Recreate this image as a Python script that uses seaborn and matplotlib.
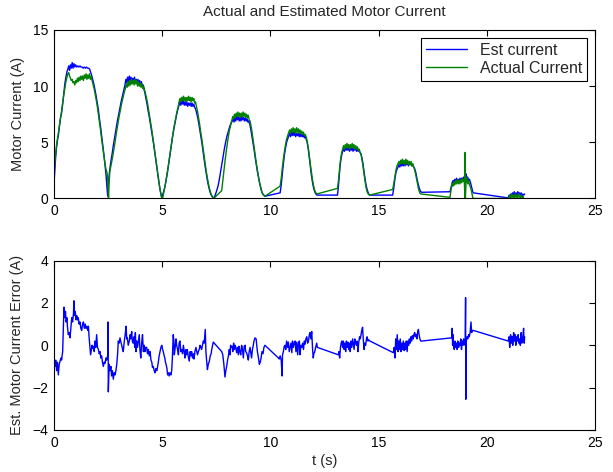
import matplotlib
matplotlib.use("Agg")
import matplotlib.pyplot as plt
import pandas as pd
import seaborn as sns

# (time s, current A), hump by hump
est_current = [
    (0.00, 1.3), (0.04, 2.6), (0.08, 3.8), (0.12, 4.6), (0.16, 5.2), (0.20, 5.6), (0.25, 6.4), (0.30, 7.2),
    (0.35, 7.6), (0.40, 8.4), (0.45, 9.3), (0.50, 10.2), (0.55, 10.8), (0.60, 11.3), (0.64, 11.5), (0.68, 11.8),
    (0.72, 11.4), (0.76, 11.9), (0.80, 11.6), (0.84, 12.1), (0.88, 11.6), (0.92, 12.0), (0.96, 11.7), (1.00, 11.9),
    (1.05, 11.7), (1.10, 11.8), (1.15, 11.7), (1.20, 11.8), (1.25, 11.7), (1.30, 11.7), (1.35, 11.6), (1.40, 11.7),
    (1.45, 11.6), (1.50, 11.7), (1.55, 11.6), (1.60, 11.6), (1.65, 11.5), (1.70, 11.2), (1.75, 10.9), (1.80, 10.5),
    (1.85, 10.1), (1.90, 9.6), (1.95, 9.1), (2.00, 8.5), (2.05, 7.9), (2.10, 7.1), (2.15, 6.4), (2.20, 5.6),
    (2.25, 4.8), (2.30, 4.0), (2.35, 3.1), (2.40, 2.2), (2.44, 1.2), (2.48, 0.2),
    (2.52, 1.4), (2.56, 2.3), (2.62, 3.2), (2.68, 3.9), (2.74, 4.7), (2.80, 5.4), (2.86, 6.1), (2.92, 6.8),
    (2.98, 7.4), (3.04, 8.0), (3.10, 8.6), (3.16, 9.1), (3.22, 9.6), (3.28, 10.1), (3.32, 10.6), (3.36, 10.3),
    (3.40, 10.8), (3.44, 10.4), (3.48, 10.9), (3.52, 10.5), (3.56, 10.8), (3.60, 10.3), (3.64, 10.7), (3.68, 10.4),
    (3.72, 10.8), (3.76, 10.3), (3.80, 10.6), (3.84, 10.3), (3.88, 10.6), (3.92, 10.2), (3.96, 10.5), (4.00, 10.1),
    (4.04, 10.4), (4.08, 10.0), (4.12, 10.1), (4.16, 9.7), (4.20, 9.4), (4.25, 8.9), (4.30, 8.4), (4.35, 7.8),
    (4.40, 7.3), (4.45, 6.7), (4.50, 6.1), (4.55, 5.5), (4.60, 4.9), (4.65, 4.2), (4.70, 3.5), (4.75, 2.8),
    (4.80, 2.1), (4.85, 1.4), (4.90, 0.8), (4.95, 0.3), (4.98, 0.1),
    (5.05, 0.5), (5.12, 1.0), (5.18, 1.6), (5.24, 2.3), (5.30, 3.1), (5.36, 3.9), (5.42, 4.7), (5.48, 5.5),
    (5.54, 6.2), (5.60, 6.8), (5.66, 7.4), (5.72, 7.9), (5.78, 8.3), (5.82, 8.6), (5.86, 8.3), (5.90, 8.7),
    (5.94, 8.4), (5.98, 8.7), (6.02, 8.3), (6.06, 8.6), (6.10, 8.3), (6.14, 8.6), (6.18, 8.2), (6.22, 8.5),
    (6.26, 8.3), (6.30, 8.5), (6.34, 8.2), (6.38, 8.5), (6.42, 8.2), (6.46, 8.4), (6.50, 8.1), (6.54, 8.0),
    (6.58, 7.7), (6.63, 7.3), (6.68, 6.8), (6.73, 6.2), (6.78, 5.6), (6.83, 5.0), (6.88, 4.3), (6.93, 3.6),
    (6.98, 2.9), (7.03, 2.3), (7.08, 1.7), (7.13, 1.2), (7.18, 0.8), (7.24, 0.4), (7.30, 0.2), (7.38, 0.0),
    (7.45, 0.3), (7.52, 0.7), (7.58, 1.1), (7.64, 1.7), (7.70, 2.4), (7.76, 3.1), (7.82, 3.8), (7.88, 4.5),
    (7.94, 5.1), (8.00, 5.6), (8.06, 6.0), (8.12, 6.4), (8.18, 6.7), (8.24, 6.9), (8.28, 7.1), (8.32, 6.8),
    (8.36, 7.2), (8.40, 6.9), (8.44, 7.3), (8.48, 7.0), (8.52, 7.3), (8.56, 6.9), (8.60, 7.2), (8.64, 6.9),
    (8.68, 7.3), (8.72, 7.0), (8.76, 7.2), (8.80, 6.9), (8.84, 7.2), (8.88, 6.9), (8.92, 7.1), (8.96, 6.8),
    (9.00, 6.9), (9.05, 6.6), (9.10, 6.1), (9.15, 5.5), (9.20, 4.9), (9.25, 4.3), (9.30, 3.6), (9.35, 3.0),
    (9.40, 2.4), (9.45, 1.9), (9.50, 1.4), (9.55, 1.0), (9.60, 0.6), (9.65, 0.4), (9.70, 0.3), (9.75, 0.2),
    (10.45, 0.5), (10.50, 1.2), (10.55, 2.2), (10.60, 3.1), (10.65, 3.9), (10.70, 4.5), (10.75, 5.0), (10.80, 5.3),
    (10.85, 5.6), (10.89, 5.8), (10.93, 5.5), (10.97, 5.9), (11.01, 5.6), (11.05, 5.9), (11.09, 5.6), (11.13, 5.9),
    (11.17, 5.5), (11.21, 5.8), (11.25, 5.6), (11.29, 5.8), (11.33, 5.5), (11.37, 5.8), (11.41, 5.5), (11.45, 5.7),
    (11.49, 5.5), (11.53, 5.7), (11.57, 5.4), (11.61, 5.5), (11.65, 5.3), (11.70, 5.0), (11.75, 4.4), (11.80, 3.6),
    (11.85, 2.8), (11.90, 2.0), (11.95, 1.4), (12.00, 0.9), (12.05, 0.6), (12.10, 0.4), (12.15, 0.3),
    (13.10, 0.3), (13.14, 1.0), (13.18, 2.0), (13.22, 2.9), (13.26, 3.5), (13.30, 3.9), (13.34, 4.2), (13.38, 4.4),
    (13.42, 4.2), (13.46, 4.5), (13.50, 4.3), (13.54, 4.6), (13.58, 4.3), (13.62, 4.5), (13.66, 4.2), (13.70, 4.5),
    (13.74, 4.3), (13.78, 4.5), (13.82, 4.2), (13.86, 4.5), (13.90, 4.3), (13.94, 4.5), (13.98, 4.2), (14.02, 4.4),
    (14.06, 4.2), (14.10, 4.3), (14.14, 4.1), (14.18, 4.0), (14.22, 3.7), (14.27, 3.2), (14.32, 2.5), (14.37, 1.8),
    (14.42, 1.2), (14.47, 0.8), (14.52, 0.5), (14.58, 0.3),
    (15.65, 0.3), (15.70, 0.9), (15.75, 1.7), (15.80, 2.3), (15.85, 2.6), (15.90, 2.8), (15.94, 3.0), (15.98, 2.8),
    (16.02, 3.1), (16.06, 2.9), (16.10, 3.2), (16.14, 2.9), (16.18, 3.2), (16.22, 2.9), (16.26, 3.2), (16.30, 3.0),
    (16.34, 3.2), (16.38, 2.9), (16.42, 3.2), (16.46, 3.0), (16.50, 3.1), (16.54, 2.9), (16.58, 3.0), (16.62, 2.8),
    (16.66, 2.7), (16.72, 2.3), (16.78, 1.7), (16.84, 1.2), (16.90, 0.8), (16.95, 0.6), (17.00, 0.55),
    (18.30, 0.6), (18.35, 1.0), (18.40, 1.4), (18.44, 1.6), (18.48, 1.4), (18.52, 1.7), (18.56, 1.5), (18.60, 1.8),
    (18.64, 1.5), (18.68, 1.7), (18.72, 1.5), (18.76, 1.8), (18.80, 1.6), (18.84, 1.8), (18.88, 1.6), (18.92, 1.9),
    (18.96, 1.7), (19.00, 2.0), (19.04, 2.2), (19.08, 1.7), (19.12, 1.9), (19.16, 1.6), (19.20, 1.7), (19.25, 1.4),
    (19.30, 1.0), (19.35, 0.6), (19.38, 0.5),
    (20.99, 0.05), (21.03, 0.3), (21.07, 0.1), (21.11, 0.4), (21.15, 0.2), (21.19, 0.5), (21.23, 0.3), (21.27, 0.6),
    (21.31, 0.3), (21.35, 0.5), (21.39, 0.2), (21.43, 0.6), (21.47, 0.4), (21.51, 0.5), (21.55, 0.3), (21.59, 0.5),
    (21.63, 0.2), (21.67, 0.4), (21.71, 0.3), (21.75, 0.4),
]

actual_current = [
    (0.00, 2.5), (0.04, 3.2), (0.08, 4.0), (0.12, 4.8), (0.16, 5.3), (0.20, 5.8), (0.25, 6.5), (0.30, 7.1),
    (0.35, 7.8), (0.40, 8.5), (0.45, 9.2), (0.50, 9.8), (0.55, 10.4), (0.60, 10.8), (0.64, 11.1), (0.68, 11.2),
    (0.72, 10.9), (0.76, 10.7), (0.80, 10.5), (0.84, 10.6), (0.88, 10.3), (0.92, 10.4), (0.96, 10.1), (1.00, 10.5),
    (1.04, 10.3), (1.08, 10.7), (1.12, 10.4), (1.16, 10.8), (1.20, 10.5), (1.24, 10.9), (1.28, 10.6), (1.32, 10.9),
    (1.36, 10.5), (1.40, 11.0), (1.44, 10.7), (1.48, 11.1), (1.52, 10.6), (1.56, 11.0), (1.60, 10.7), (1.64, 11.1),
    (1.68, 10.6), (1.72, 10.9), (1.76, 10.5), (1.80, 10.2), (1.85, 9.8), (1.90, 9.3), (1.95, 8.8), (2.00, 8.2),
    (2.05, 7.5), (2.10, 6.8), (2.15, 6.1), (2.20, 5.3), (2.25, 4.6), (2.30, 3.9), (2.35, 3.2), (2.40, 2.6),
    (2.45, 2.3), (2.48, 1.8), (2.52, 0.0), (2.55, 1.5), (2.58, 2.4), (2.64, 3.0), (2.70, 3.6), (2.76, 4.3),
    (2.82, 5.0), (2.88, 5.8), (2.94, 6.5), (3.00, 7.2), (3.06, 7.8), (3.12, 8.4), (3.18, 8.9), (3.24, 9.4),
    (3.30, 9.8), (3.34, 10.2), (3.38, 9.9), (3.42, 10.4), (3.46, 10.0), (3.50, 10.5), (3.54, 10.1), (3.58, 10.6),
    (3.62, 10.2), (3.66, 10.5), (3.70, 10.1), (3.74, 10.6), (3.78, 10.2), (3.82, 10.5), (3.86, 10.0), (3.90, 10.4),
    (3.94, 10.0), (3.98, 10.3), (4.02, 9.9), (4.06, 10.2), (4.10, 9.8), (4.14, 10.0), (4.18, 9.7), (4.22, 9.4),
    (4.27, 9.0), (4.32, 8.5), (4.37, 7.9), (4.42, 7.3), (4.47, 6.7), (4.52, 6.1), (4.57, 5.4), (4.62, 4.7),
    (4.67, 4.0), (4.72, 3.3), (4.77, 2.6), (4.82, 1.9), (4.87, 1.2), (4.92, 0.6), (4.97, 0.1), (5.02, 0.0),
    (5.08, 0.6), (5.14, 1.2), (5.20, 1.9), (5.26, 2.6), (5.32, 3.4), (5.38, 4.2), (5.44, 5.0), (5.50, 5.8),
    (5.56, 6.5), (5.62, 7.1), (5.68, 7.7), (5.74, 8.2), (5.78, 8.6), (5.82, 8.9), (5.86, 8.6), (5.90, 9.0),
    (5.94, 8.7), (5.98, 9.1), (6.02, 8.7), (6.06, 9.0), (6.10, 8.6), (6.14, 9.0), (6.18, 8.7), (6.22, 9.1),
    (6.26, 8.7), (6.30, 9.0), (6.34, 8.6), (6.38, 9.0), (6.42, 8.7), (6.46, 8.9), (6.50, 8.5), (6.54, 8.6),
    (6.58, 8.2), (6.63, 7.8), (6.68, 7.2), (6.73, 6.6), (6.78, 5.9), (6.83, 5.3), (6.88, 4.6), (6.93, 3.9),
    (6.98, 3.2), (7.03, 2.5), (7.08, 1.9), (7.13, 1.4), (7.18, 0.9), (7.24, 0.5), (7.30, 0.2), (7.38, 0.0),
    (7.75, 0.7), (7.80, 1.6), (7.86, 2.6), (7.92, 3.6), (7.98, 4.5), (8.04, 5.3), (8.10, 6.0), (8.16, 6.5),
    (8.22, 7.0), (8.26, 7.3), (8.30, 7.1), (8.34, 7.5), (8.38, 7.2), (8.42, 7.6), (8.46, 7.3), (8.50, 7.7),
    (8.54, 7.3), (8.58, 7.6), (8.62, 7.2), (8.66, 7.6), (8.70, 7.3), (8.74, 7.7), (8.78, 7.3), (8.82, 7.6),
    (8.86, 7.2), (8.90, 7.5), (8.94, 7.2), (8.98, 7.4), (9.02, 7.0), (9.06, 6.9), (9.11, 6.4), (9.16, 5.8),
    (9.21, 5.1), (9.26, 4.4), (9.31, 3.7), (9.36, 3.0), (9.41, 2.4), (9.46, 1.8), (9.51, 1.3), (9.56, 0.9),
    (9.62, 0.5), (9.68, 0.3), (9.75, 0.2),
    (10.45, 1.1), (10.50, 1.8), (10.55, 2.7), (10.60, 3.5), (10.65, 4.2), (10.70, 4.8), (10.75, 5.3), (10.80, 5.6),
    (10.85, 5.9), (10.89, 6.1), (10.93, 5.8), (10.97, 6.2), (11.01, 5.9), (11.05, 6.3), (11.09, 5.9), (11.13, 6.2),
    (11.17, 5.8), (11.21, 6.3), (11.25, 5.9), (11.29, 6.2), (11.33, 5.8), (11.37, 6.1), (11.41, 5.8), (11.45, 6.0),
    (11.49, 5.7), (11.53, 5.9), (11.57, 5.6), (11.61, 5.7), (11.65, 5.5), (11.70, 5.1), (11.75, 4.5), (11.80, 3.8),
    (11.85, 3.0), (11.90, 2.3), (11.95, 1.6), (12.00, 1.1), (12.05, 0.7), (12.10, 0.5), (12.15, 0.4),
    (13.10, 0.9), (13.14, 1.5), (13.18, 2.3), (13.22, 3.1), (13.26, 3.7), (13.30, 4.1), (13.34, 4.4), (13.38, 4.7),
    (13.42, 4.4), (13.46, 4.8), (13.50, 4.5), (13.54, 4.9), (13.58, 4.5), (13.62, 4.8), (13.66, 4.4), (13.70, 4.8),
    (13.74, 4.5), (13.78, 4.9), (13.82, 4.5), (13.86, 4.8), (13.90, 4.4), (13.94, 4.7), (13.98, 4.4), (14.02, 4.6),
    (14.06, 4.3), (14.10, 4.4), (14.14, 4.1), (14.18, 4.0), (14.22, 3.6), (14.27, 3.0), (14.32, 2.3), (14.37, 1.6),
    (14.42, 1.0), (14.47, 0.6), (14.52, 0.4), (14.58, 0.3),
    (15.65, 0.8), (15.70, 1.3), (15.75, 1.9), (15.80, 2.5), (15.85, 2.9), (15.90, 3.1), (15.94, 3.3), (15.98, 3.0),
    (16.02, 3.4), (16.06, 3.1), (16.10, 3.5), (16.14, 3.1), (16.18, 3.4), (16.22, 3.0), (16.26, 3.5), (16.30, 3.1),
    (16.34, 3.4), (16.38, 3.0), (16.42, 3.3), (16.46, 3.0), (16.50, 3.3), (16.54, 2.9), (16.58, 3.1), (16.62, 2.8),
    (16.66, 2.6), (16.72, 2.1), (16.78, 1.5), (16.84, 0.9), (16.90, 0.5), (16.96, 0.4),
    (18.30, 0.1), (18.35, 0.8), (18.40, 1.3), (18.44, 1.1), (18.48, 1.5), (18.52, 1.2), (18.56, 1.6), (18.60, 1.3),
    (18.64, 1.7), (18.68, 1.3), (18.72, 1.6), (18.76, 1.3), (18.80, 1.7), (18.84, 1.4), (18.88, 1.8), (18.92, 1.5),
    (18.96, 1.7), (18.99, 0.0), (19.00, 4.1), (19.01, 0.0), (19.04, 1.4), (19.08, 1.9), (19.12, 1.3), (19.16, 1.6),
    (19.20, 1.2), (19.25, 1.0), (19.30, 0.6), (19.36, 0.0),
    (20.99, 0.0), (21.03, 0.1), (21.07, 0.3), (21.11, 0.0), (21.15, 0.4), (21.19, 0.1), (21.23, 0.3), (21.27, 0.0),
    (21.31, 0.4), (21.35, 0.1), (21.39, 0.3), (21.43, 0.0), (21.47, 0.4), (21.51, 0.2), (21.55, 0.0), (21.59, 0.3),
    (21.63, 0.1), (21.67, 0.2), (21.70, 0.0),
]

current_error = [
    (0.00, -0.6), (0.04, -1.0), (0.08, -0.7), (0.12, -1.2), (0.16, -0.8), (0.20, -1.4), (0.24, -0.9), (0.28, -0.75),
    (0.32, -0.6), (0.35, -0.7), (0.40, -0.3), (0.43, 0.8), (0.46, 1.8), (0.50, 1.3), (0.53, 1.6), (0.56, 1.1),
    (0.60, 1.3), (0.62, 0.9), (0.66, 0.5), (0.70, 0.6), (0.74, 0.35), (0.78, 0.8), (0.82, 1.3), (0.86, 1.1),
    (0.90, 1.5), (0.92, 2.1), (0.95, 1.4), (0.98, 1.6), (1.02, 1.2), (1.05, 1.4), (1.08, 1.2), (1.12, 1.3),
    (1.16, 1.0), (1.20, 1.1), (1.24, 0.8), (1.28, 0.7), (1.32, 1.0), (1.36, 1.1), (1.40, 0.8), (1.44, 1.0),
    (1.48, 0.8), (1.52, 0.9), (1.56, 0.7), (1.59, 0.9), (1.62, 0.4), (1.66, -0.1), (1.69, -0.45), (1.73, -0.2),
    (1.76, 0.0), (1.79, -0.15), (1.83, -0.05), (1.86, -0.3), (1.89, 0.2), (1.93, -0.1), (1.97, 0.5), (2.01, -0.1),
    (2.05, -0.2), (2.09, -0.4), (2.13, -0.3), (2.16, -0.6), (2.20, -0.5), (2.24, -0.8), (2.28, -1.0), (2.32, -0.8),
    (2.36, -0.85), (2.40, -0.6), (2.43, -0.7), (2.48, -0.5), (2.50, 1.1), (2.51, -2.2), (2.55, -0.9), (2.59, -1.2),
    (2.63, -1.0), (2.66, -1.45), (2.70, -1.2), (2.74, -1.6), (2.78, -1.3), (2.82, -1.4), (2.86, -1.2), (2.90, -0.9),
    (2.94, -0.4), (2.97, 0.2), (3.01, 0.1), (3.05, 0.35), (3.09, 0.15), (3.13, 0.0), (3.17, -0.2), (3.20, -0.3),
    (3.25, 0.2), (3.29, 0.5), (3.33, 0.9), (3.36, 0.3), (3.39, 0.35), (3.43, 0.0), (3.48, 0.2), (3.52, 0.5),
    (3.55, 0.3), (3.59, 0.65), (3.62, 0.2), (3.66, 0.1), (3.70, 0.4), (3.73, -0.1), (3.76, 0.6), (3.79, -0.3),
    (3.82, 0.2), (3.86, -0.1), (3.91, 0.3), (3.94, 0.5), (3.97, -0.2), (4.01, -0.6), (4.05, 0.1), (4.09, 0.5),
    (4.13, -0.3), (4.17, 0.0), (4.20, -0.3), (4.24, -0.1), (4.28, -0.1), (4.32, -0.4), (4.36, -0.2), (4.40, -0.5),
    (4.44, -0.3), (4.48, -0.7), (4.52, -0.8), (4.55, -1.05), (4.59, -1.0), (4.63, -1.2), (4.67, -1.3), (4.71, -1.1),
    (4.75, -1.2), (4.78, -1.05), (4.82, -0.8), (4.86, -0.5), (4.90, -0.3), (4.94, -0.1), (4.98, 0.0), (5.02, -0.2),
    (5.05, -0.3), (5.08, -0.45), (5.12, -0.6), (5.15, -0.8), (5.18, -0.9), (5.22, -1.1), (5.25, -1.4), (5.29, -1.3),
    (5.32, -1.45), (5.36, -1.3), (5.40, -1.4), (5.44, -1.2), (5.47, -0.6), (5.51, 0.5), (5.54, 0.2), (5.56, -0.45),
    (5.60, -0.1), (5.64, 0.3), (5.67, 0.0), (5.71, -0.2), (5.75, -0.45), (5.78, 0.1), (5.82, 0.2), (5.86, -0.3),
    (5.90, -0.2), (5.94, -0.4), (5.98, 0.0), (6.02, -0.3), (6.05, -0.6), (6.09, -0.2), (6.13, -0.45), (6.16, -0.2),
    (6.20, -0.5), (6.25, -0.75), (6.29, -0.3), (6.33, -0.5), (6.36, -0.3), (6.40, -0.6), (6.44, -0.4), (6.47, -0.65),
    (6.51, -0.3), (6.56, -0.1), (6.60, -0.3), (6.63, -0.45), (6.67, -0.3), (6.71, -0.2), (6.75, 0.0), (6.79, -0.1),
    (6.82, -0.2), (6.86, 0.0), (6.90, 0.2), (6.94, 0.1), (6.99, 0.75), (7.02, -0.3), (7.05, -0.7), (7.09, -1.15),
    (7.13, -0.9), (7.18, -0.75), (7.22, -0.5), (7.26, -0.4), (7.29, -0.2), (7.33, 0.0), (7.36, 0.15),
    (7.75, -0.3), (7.80, -0.45), (7.85, -0.9), (7.90, -1.5), (7.94, -1.2), (7.98, -1.0), (8.02, -0.7), (8.06, -0.5),
    (8.10, -0.2), (8.13, -0.45), (8.16, 0.0), (8.20, -0.1), (8.23, -0.05), (8.26, -0.3), (8.30, 0.1), (8.33, -0.2),
    (8.37, 0.0), (8.40, -0.1), (8.44, -0.35), (8.48, -0.1), (8.52, -0.45), (8.55, -0.05), (8.59, -0.3), (8.63, -0.45),
    (8.67, 0.0), (8.71, -0.2), (8.75, -0.6), (8.79, -0.05), (8.83, 0.0), (8.86, -0.3), (8.90, -0.35), (8.94, -0.5),
    (8.98, -0.7), (9.02, -0.3), (9.06, -0.1), (9.10, -0.4), (9.13, -0.6), (9.17, -0.2), (9.21, 0.0), (9.24, 0.2),
    (9.29, 0.35), (9.34, 0.3), (9.37, 0.0), (9.40, -0.3), (9.45, -0.6), (9.49, -0.9), (9.53, -0.8), (9.57, -0.6),
    (9.61, -0.3), (9.66, -0.4), (9.70, -0.1), (9.75, 0.0), (9.80, -0.05),
    (10.37, -0.6), (10.41, -0.65), (10.45, -0.5), (10.50, -0.7), (10.54, -1.45), (10.56, -0.45), (10.60, -0.3),
    (10.64, -0.05), (10.67, 0.0), (10.71, -0.2), (10.75, 0.2), (10.79, -0.1), (10.83, 0.15), (10.87, -0.3),
    (10.91, -0.1), (10.95, 0.1), (10.99, -0.35), (11.02, 0.2), (11.06, -0.1), (11.10, 0.1), (11.14, 0.2),
    (11.18, -0.3), (11.22, 0.15), (11.26, -0.45), (11.30, 0.1), (11.34, 0.2), (11.37, -0.45), (11.41, 0.0),
    (11.45, -0.1), (11.49, 0.1), (11.53, -0.2), (11.57, 0.2), (11.60, 0.05), (11.64, 0.3), (11.68, 0.4),
    (11.72, 0.1), (11.76, 0.2), (11.80, 0.5), (11.83, 0.6), (11.87, 0.3), (11.91, 0.65), (11.95, -0.2),
    (11.98, -0.6), (12.01, -0.4), (12.05, -0.3), (12.09, -0.1), (12.14, 0.1), (12.17, -0.1),
    (13.14, -0.45), (13.17, -0.3), (13.20, -0.6), (13.24, -0.1), (13.27, 0.1), (13.30, 0.2), (13.34, -0.1),
    (13.37, 0.2), (13.41, -0.2), (13.44, 0.1), (13.48, -0.3), (13.51, 0.2), (13.55, -0.1), (13.58, 0.15),
    (13.62, -0.2), (13.65, 0.1), (13.69, -0.3), (13.72, 0.2), (13.76, -0.1), (13.80, 0.3), (13.83, 0.1),
    (13.87, -0.2), (13.90, 0.3), (13.94, 0.1), (13.98, 0.0), (14.01, 0.2), (14.05, -0.3), (14.08, 0.1),
    (14.12, 0.4), (14.15, 0.3), (14.19, 0.5), (14.22, 0.7), (14.26, 0.85), (14.29, 0.3), (14.33, -0.2),
    (14.36, 0.1), (14.40, 0.0), (14.44, 0.3), (14.47, 0.4), (14.51, 0.2), (14.55, 0.25), (14.60, 0.2),
    (15.68, -0.35), (15.72, -0.1), (15.76, -0.6), (15.79, 0.3), (15.83, -0.2), (15.86, 0.5), (15.90, -0.3),
    (15.93, 0.2), (15.96, -0.2), (16.00, 0.3), (16.04, -0.3), (16.07, 0.1), (16.11, -0.2), (16.14, 0.2),
    (16.18, -0.25), (16.21, 0.1), (16.25, -0.2), (16.28, 0.2), (16.32, -0.3), (16.35, 0.2), (16.39, 0.0),
    (16.42, 0.3), (16.46, 0.1), (16.49, 0.4), (16.53, 0.2), (16.56, 0.45), (16.60, 0.3), (16.63, 0.5),
    (16.67, 0.6), (16.70, 0.4), (16.74, 0.5), (16.77, 0.3), (16.80, 0.6), (16.84, 0.75), (16.87, 0.5),
    (16.91, 0.3), (16.95, 0.2), (16.99, 0.2),
    (18.38, 0.35), (18.40, 0.8), (18.42, 0.0), (18.44, 0.5), (18.47, -0.1), (18.50, -0.2), (18.53, 0.2),
    (18.56, -0.1), (18.60, 0.1), (18.63, -0.2), (18.66, 0.2), (18.70, -0.1), (18.73, 0.1), (18.76, 0.0),
    (18.80, 0.3), (18.83, -0.2), (18.87, 0.2), (18.90, 0.0), (18.93, 0.3), (18.96, 0.1), (19.00, 0.0),
    (19.02, 2.25), (19.03, -2.55), (19.05, 0.2), (19.09, 0.4), (19.12, 0.3), (19.16, 0.5), (19.19, 0.4),
    (19.23, 0.6), (19.27, 1.1), (19.30, 0.6), (19.34, 0.7), (19.38, 0.7),
    (20.99, 0.2), (21.03, 0.4), (21.06, -0.1), (21.10, 0.5), (21.13, 0.1), (21.17, 0.4), (21.20, 0.0),
    (21.24, 0.6), (21.27, 0.2), (21.31, 0.5), (21.34, 0.0), (21.38, 0.4), (21.41, 0.2), (21.45, 0.5),
    (21.48, 0.1), (21.52, 0.3), (21.55, 0.0), (21.59, 0.6), (21.62, 0.1), (21.66, 0.3), (21.70, 0.8),
    (21.73, 0.1), (21.75, 0.4),
]

x_ticks = [0, 5, 10, 15, 20, 25]
top_y_ticks = [0, 5, 10, 15]
bottom_y_ticks = [-4, -2, 0, 2, 4]

EST_COLOR = "#0000ff"
ACT_COLOR = "#008000"


def _frame(points, name):
    return pd.DataFrame(points, columns=["t", name])


def _style_axes(ax):
    ax.tick_params(direction="in", length=4, width=0.8, top=True, right=True,
                   labelsize=10, pad=4, colors="black")
    for spine in ax.spines.values():
        spine.set_visible(True)
        spine.set_linewidth(0.8)
        spine.set_color("black")
    ax.grid(False)


sns.set_style("white")
plt.rcParams["font.family"] = ["Liberation Sans", "DejaVu Sans"]

fig = plt.figure(figsize=(6.13, 4.72), dpi=100)
ax_top = fig.add_axes([0.0881, 0.5795, 0.8825, 0.3570])
ax_bot = fig.add_axes([0.0881, 0.0890, 0.8825, 0.3590])

est = _frame(est_current, "amps")
act = _frame(actual_current, "amps")
err = _frame(current_error, "amps")

sns.lineplot(data=est, x="t", y="amps", ax=ax_top, color=EST_COLOR, linewidth=1.0,
             estimator=None, sort=False, label="Est current")
sns.lineplot(data=act, x="t", y="amps", ax=ax_top, color=ACT_COLOR, linewidth=1.0,
             estimator=None, sort=False, label="Actual Current")
ax_top.set_xlim(x_ticks[0], x_ticks[-1])
ax_top.set_ylim(top_y_ticks[0], top_y_ticks[-1])
ax_top.set_xticks(x_ticks)
ax_top.set_yticks(top_y_ticks)
ax_top.set_xlabel("")
ax_top.set_ylabel("Motor Current (A)", fontsize=10.5, labelpad=6)
ax_top.set_title("Actual and Estimated Motor Current", fontsize=11, pad=10)
_style_axes(ax_top)
leg = ax_top.legend(loc="upper right", fontsize=11.5, frameon=True, fancybox=False,
                    edgecolor="black", framealpha=1, handlelength=2.6,
                    borderaxespad=0.5, borderpad=0.3, labelspacing=0.2,
                    handletextpad=0.8)
leg.get_frame().set_linewidth(0.8)

sns.lineplot(data=err, x="t", y="amps", ax=ax_bot, color=EST_COLOR, linewidth=1.0,
             estimator=None, sort=False)
ax_bot.set_xlim(x_ticks[0], x_ticks[-1])
ax_bot.set_ylim(bottom_y_ticks[0], bottom_y_ticks[-1])
ax_bot.set_xticks(x_ticks)
ax_bot.set_yticks(bottom_y_ticks)
ax_bot.set_xlabel("t (s)", fontsize=10.5, labelpad=3)
ax_bot.set_ylabel("Est. Motor Current Error (A)", fontsize=10.5, labelpad=6)
_style_axes(ax_bot)

fig.savefig("out.png", dpi=100)
plt.close(fig)
